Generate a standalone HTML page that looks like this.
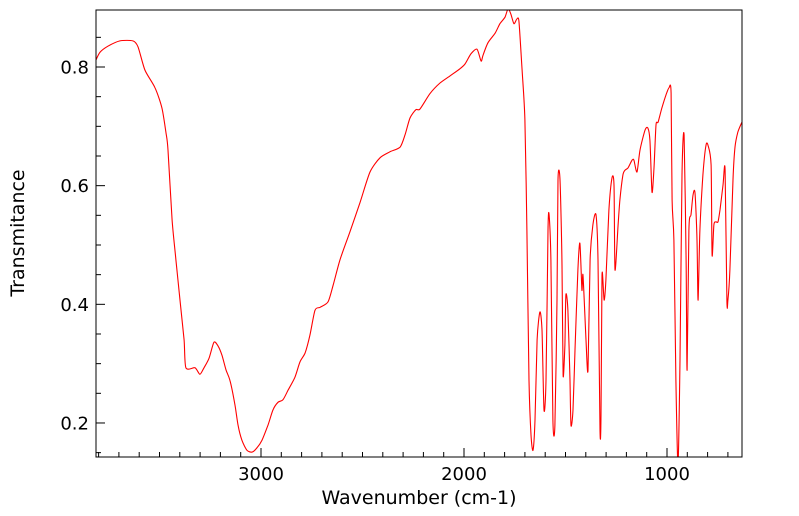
<!DOCTYPE html>
<html><head><meta charset="utf-8"><style>
html,body{margin:0;padding:0;background:#fff;}
svg{display:block;font-family:"DejaVu Sans","Liberation Sans",sans-serif;}
</style></head><body>
<svg id="chart" width="799" height="516" viewBox="0 0 799 516" xmlns="http://www.w3.org/2000/svg">
<defs><clipPath id="plotclip"><rect x="96" y="10" width="646" height="447"/></clipPath></defs>
<g id="axes"></g>
<path id="spectrum" fill="none" stroke="#ff0000" stroke-width="1.1" clip-path="url(#plotclip)"/>
<rect x="96" y="10" width="646" height="447" fill="none" stroke="#000" stroke-width="1"/>
<text x="419" y="504" font-size="19" text-anchor="middle">Wavenumber (cm-1)</text>
<text x="24" y="233" font-size="19" text-anchor="middle" transform="rotate(-90 24 233)">Transmitance</text>
</svg>
<script>
const wavenumbers = [3813,3793,3754,3695,3631,3606,3572,3522,3488,3468,3458,3438,3419,3399,3379,3370,3325,3301,3281,3256,3232,3212,3192,3172,3153,3128,3113,3094,3069,3044,3020,2995,2966,2941,2916,2892,2867,2833,2808,2783,2759,2734,2709,2670,2645,2611,2562,2512,2463,2414,2365,2315,2291,2266,2237,2217,2168,2118,2069,2020,1995,1966,1936,1916,1906,1882,1847,1823,1798,1783,1769,1754,1739,1729,1714,1700,1690,1680,1670,1660,1650,1640,1626,1616,1606,1596,1586,1581,1572,1562,1552,1542,1537,1527,1517,1512,1503,1498,1488,1478,1473,1463,1453,1439,1429,1419,1414,1399,1389,1379,1365,1350,1340,1330,1325,1320,1310,1301,1286,1271,1261,1256,1241,1232,1217,1207,1192,1172,1163,1148,1133,1108,1094,1084,1074,1064,1054,1044,1025,1005,990,980,975,966,956,946,936,926,916,906,901,892,882,872,862,852,847,838,823,808,798,783,778,769,759,749,739,724,714,705,700,690,675,665,651,631];
const transmittance = [0.812,0.825,0.835,0.844,0.844,0.834,0.795,0.765,0.731,0.689,0.660,0.542,0.475,0.407,0.340,0.293,0.293,0.282,0.293,0.309,0.336,0.330,0.314,0.289,0.272,0.230,0.196,0.171,0.154,0.151,0.158,0.171,0.196,0.222,0.235,0.239,0.255,0.277,0.303,0.318,0.348,0.390,0.395,0.404,0.432,0.475,0.522,0.572,0.623,0.647,0.657,0.665,0.685,0.714,0.728,0.729,0.755,0.773,0.785,0.797,0.805,0.822,0.830,0.810,0.820,0.841,0.857,0.873,0.884,0.898,0.889,0.873,0.881,0.876,0.795,0.711,0.525,0.272,0.180,0.154,0.205,0.340,0.387,0.357,0.222,0.272,0.525,0.551,0.475,0.205,0.196,0.407,0.610,0.610,0.466,0.281,0.331,0.416,0.390,0.272,0.196,0.222,0.323,0.458,0.503,0.424,0.449,0.340,0.289,0.475,0.534,0.551,0.475,0.188,0.213,0.449,0.407,0.441,0.559,0.613,0.601,0.458,0.534,0.576,0.618,0.626,0.630,0.643,0.643,0.623,0.660,0.694,0.697,0.677,0.589,0.630,0.702,0.707,0.731,0.753,0.765,0.756,0.576,0.508,0.272,0.130,0.306,0.618,0.685,0.475,0.289,0.525,0.551,0.584,0.588,0.508,0.407,0.525,0.618,0.668,0.668,0.635,0.483,0.534,0.539,0.539,0.559,0.601,0.626,0.407,0.407,0.458,0.610,0.665,0.690,0.707];
const xTickLabels = ["3000","2000","1000"];
const yTickLabels = ["0.2","0.4","0.6","0.8"];

const NS = "http://www.w3.org/2000/svg";
const L = 96, R = 742, T = 10, B = 457;
function xs(w){ return 261 + (3000 - w) * 0.203; }
function ys(v){ return 67 + (0.8 - v) * 593.3; }
const axes = document.getElementById('axes');
function line(x1,y1,x2,y2,name){
  const l = document.createElementNS(NS,'line');
  l.setAttribute('x1',x1);l.setAttribute('y1',y1);l.setAttribute('x2',x2);l.setAttribute('y2',y2);
  l.setAttribute('stroke','#000');l.setAttribute('stroke-width','1');
  
  
  axes.appendChild(l);
}
for (let w = 3800; w >= 700; w -= 100) {
  const x = xs(w);
  if (x < L || x > R) continue;
  const major = (w % 1000 === 0);
  line(x, B, x, B - (major ? 9 : 5), major ? 'x-major-tick' : 'x-minor-tick');
}
xTickLabels.forEach(s => {
  const t = document.createElementNS(NS,'text');
  t.setAttribute('x', xs(parseFloat(s))); t.setAttribute('y', 480);
  t.setAttribute('font-size','18'); t.setAttribute('text-anchor','middle');
  t.textContent = s;
  
  
  axes.appendChild(t);
});
for (let i = 3; i <= 17; i++) {
  const v = i * 0.05;
  const y = ys(v);
  if (y < T || y > B) continue;
  const major = (i % 4 === 0);
  line(L, y, L + (major ? 9 : 5), y, major ? 'y-major-tick' : 'y-minor-tick');
}
yTickLabels.forEach(s => {
  const t = document.createElementNS(NS,'text');
  t.setAttribute('x', 89); t.setAttribute('y', ys(parseFloat(s)) + 6.5);
  t.setAttribute('font-size','18'); t.setAttribute('text-anchor','end');
  t.textContent = s;
  
  
  axes.appendChild(t);
});
const pts = wavenumbers.map((w,i) => [xs(w), ys(transmittance[i])]);
let d = 'M' + pts[0][0].toFixed(1) + ',' + pts[0][1].toFixed(1);
for (let i = 0; i < pts.length - 1; i++) {
  const p0 = pts[Math.max(0,i-1)], p1 = pts[i], p2 = pts[i+1], p3 = pts[Math.min(pts.length-1,i+2)];
  const k = 1/8;
  const c1x = p1[0] + (p2[0]-p0[0])*k, c1y = p1[1] + (p2[1]-p0[1])*k;
  const c2x = p2[0] - (p3[0]-p1[0])*k, c2y = p2[1] - (p3[1]-p1[1])*k;
  d += 'C' + c1x.toFixed(1) + ',' + c1y.toFixed(1) + ' ' + c2x.toFixed(1) + ',' + c2y.toFixed(1) + ' ' + p2[0].toFixed(1) + ',' + p2[1].toFixed(1);
}
document.getElementById('spectrum').setAttribute('d', d);
</script>
</body></html>
